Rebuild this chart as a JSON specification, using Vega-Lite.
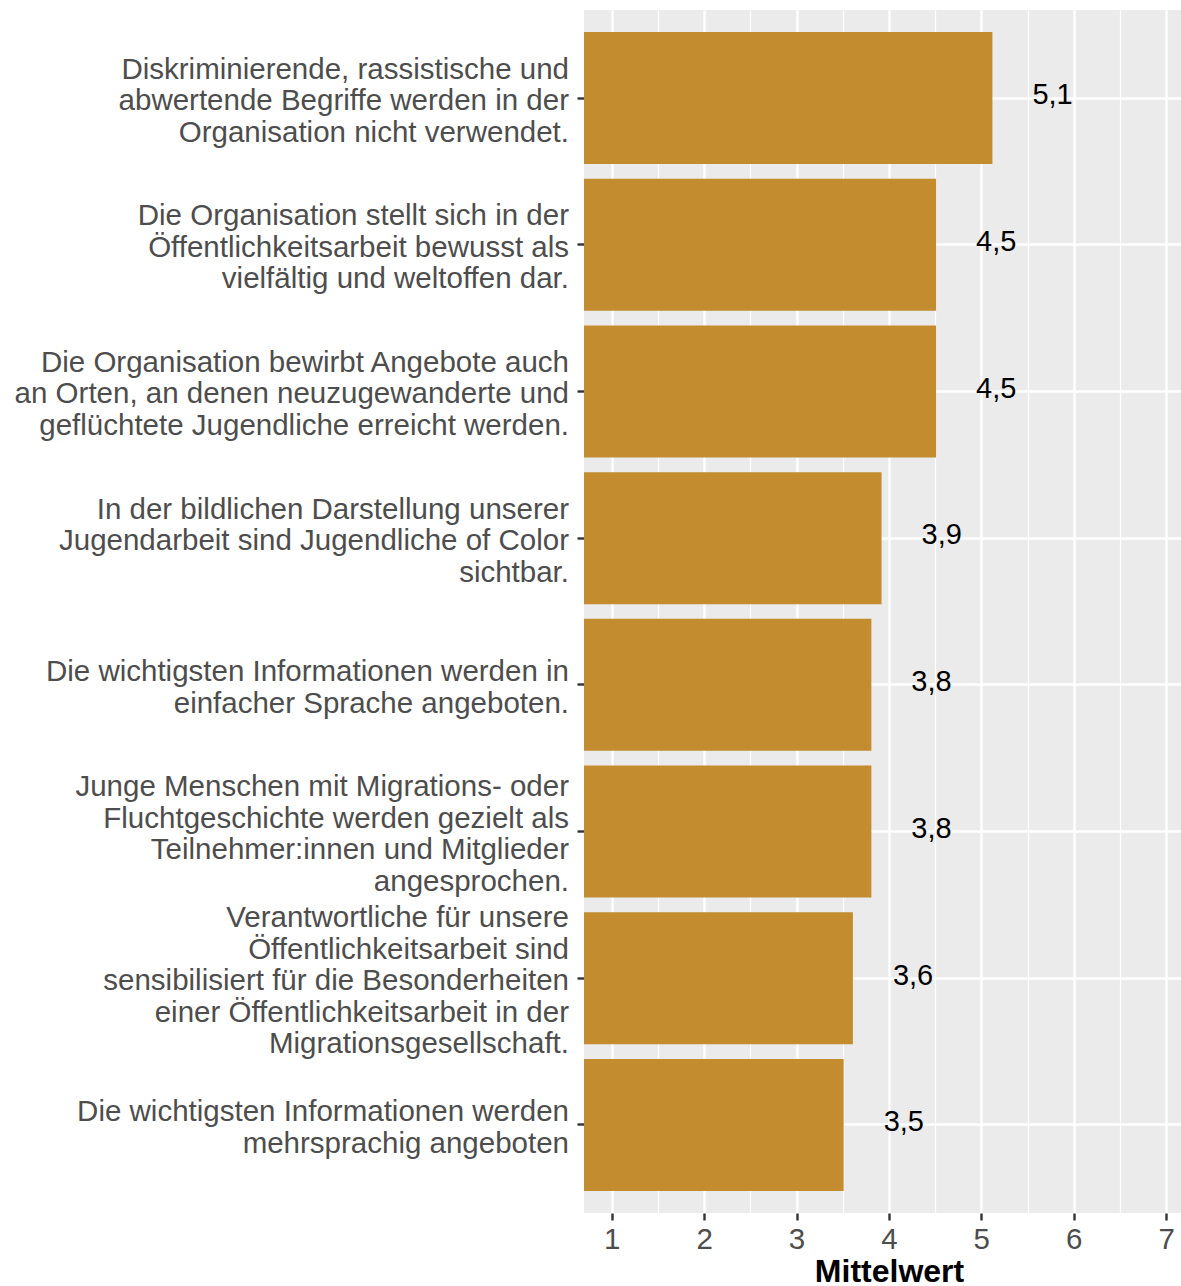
{
  "$schema": "https://vega.github.io/schema/vega-lite/v6.json",
  "autosize": {"type": "none"},
  "padding": {"left": 584, "top": 10, "right": 0, "bottom": 73},
  "width": 597,
  "height": 1203,
  "background": "white",
  "config": {
    "view": {"fill": "#EBEBEB", "stroke": null},
    "font": "Liberation Sans",
    "locale": {"number": {"decimal": ",", "thousands": ".", "grouping": [3], "currency": ["", " €"]}}
  },
  "data": {
    "values": [
      {"aussage": "Diskriminierende, rassistische und\nabwertende Begriffe werden in der\nOrganisation nicht verwendet.", "mittelwert": 5.12},
      {"aussage": "Die Organisation stellt sich in der\nÖffentlichkeitsarbeit bewusst als\nvielfältig und weltoffen dar.", "mittelwert": 4.51},
      {"aussage": "Die Organisation bewirbt Angebote auch\nan Orten, an denen neuzugewanderte und\ngeflüchtete Jugendliche erreicht werden.", "mittelwert": 4.51},
      {"aussage": "In der bildlichen Darstellung unserer\nJugendarbeit sind Jugendliche of Color\nsichtbar.", "mittelwert": 3.92},
      {"aussage": "Die wichtigsten Informationen werden in\neinfacher Sprache angeboten.", "mittelwert": 3.81},
      {"aussage": "Junge Menschen mit Migrations- oder\nFluchtgeschichte werden gezielt als\nTeilnehmer:innen und Mitglieder\nangesprochen.", "mittelwert": 3.81},
      {"aussage": "Verantwortliche für unsere\nÖffentlichkeitsarbeit sind\nsensibilisiert für die Besonderheiten\neiner Öffentlichkeitsarbeit in der\nMigrationsgesellschaft.", "mittelwert": 3.61},
      {"aussage": "Die wichtigsten Informationen werden\nmehrsprachig angeboten", "mittelwert": 3.51}
    ]
  },
  "encoding": {
    "y": {
      "field": "aussage",
      "type": "nominal",
      "sort": null,
      "scale": {"paddingInner": 0.1, "paddingOuter": 0.15},
      "axis": {
        "title": null,
        "domain": false,
        "ticks": true,
        "tickSize": 7,
        "tickWidth": 2.4,
        "tickColor": "#333333",
        "labelPadding": 8.5,
        "labelFontSize": 29.5,
        "labelColor": "#4D4D4D",
        "labelLimit": 0,
        "labelLineHeight": 31.5,
        "labelExpr": "split(datum.label, '\\n')",
        "labelOffset": {
          "condition": [
            {"test": "length(split(datum.label, '\\n')) == 2", "value": -12.75},
            {"test": "length(split(datum.label, '\\n')) == 3", "value": -28.5},
            {"test": "length(split(datum.label, '\\n')) == 4", "value": -44.25},
            {"test": "length(split(datum.label, '\\n')) == 5", "value": -60}
          ],
          "value": 3
        },
        "labelOverlap": false,
        "grid": true,
        "gridColor": "white",
        "gridWidth": 2.4,
        "bandPosition": 0.5
      }
    }
  },
  "layer": [
    {
      "mark": {"type": "bar", "color": "#C28C2F", "clip": true},
      "encoding": {
        "x": {
          "field": "mittelwert",
          "type": "quantitative",
          "scale": {"domain": [0.7, 7.161], "nice": false, "zero": false},
          "axis": {
            "values": [1, 1.5, 2, 2.5, 3, 3.5, 4, 4.5, 5, 5.5, 6, 6.5, 7],
            "format": ".0f",
            "title": "Mittelwert",
            "titleFontSize": 32,
            "titleFontWeight": "bold",
            "titleColor": "black",
            "titleX": 305,
            "titleY": 68.7,
            "titleAlign": "center",
            "titleBaseline": "alphabetic",
            "domain": false,
            "tickSize": 7,
            "tickWidth": 2.4,
            "tickColor": "#333333",
            "tickOpacity": {"condition": {"test": "datum.value % 1 !== 0", "value": 0}, "value": 1},
            "labelExpr": "datum.value % 1 === 0 ? datum.label : ''",
            "labelFontSize": 29.5,
            "labelColor": "#4D4D4D",
            "labelPadding": 5,
            "labelFlush": false,
            "labelOverlap": false,
            "grid": true,
            "gridColor": "white",
            "gridWidth": {"condition": {"test": "datum.value % 1 === 0", "value": 2.4}, "value": 1.2}
          }
        }
      }
    },
    {
      "mark": {"type": "text", "align": "left", "baseline": "alphabetic", "dx": 40, "dy": 6.3, "fontSize": 29, "color": "black"},
      "encoding": {
        "x": {"field": "mittelwert", "type": "quantitative"},
        "text": {"field": "mittelwert", "type": "quantitative", "format": ".1f"}
      }
    }
  ]
}
